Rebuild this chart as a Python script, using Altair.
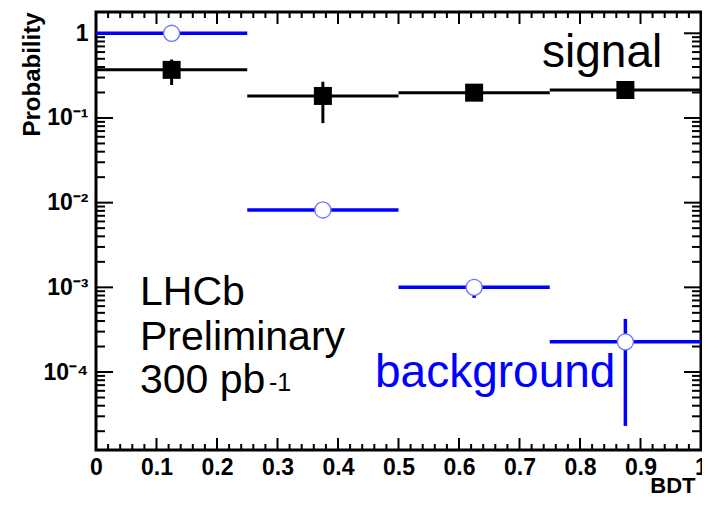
import altair as alt
import pandas as pd

# ---- data ----
bin_lo = [0.0, 0.25, 0.5, 0.75]
bin_hi = [0.25, 0.5, 0.75, 1.0]
bin_center = [0.125, 0.375, 0.625, 0.875]

signal = [0.37, 0.182, 0.199, 0.214]
signal_err_lo = [0.245, 0.087, 0.18, 0.195]
signal_err_hi = [0.49, 0.268, 0.22, 0.235]

background = [1.0, 0.0082, 0.001, 0.000227]
background_err_lo = [0.98, 0.0075, 0.00075, 0.0000231]
background_err_hi = [1.02, 0.009, 0.00125, 0.000424]

x_major = [0.0, 0.1, 0.2, 0.3, 0.4, 0.5, 0.6, 0.7, 0.8, 0.9, 1.0]
x_minor = [round(i * 0.02, 2) for i in range(51) if i % 5 != 0]
y_major = [1.0, 0.1, 0.01, 0.001, 0.0001]
y_labels = ["1", "10⁻¹", "10⁻²", "10⁻³", "10⁻⁴"]
y_minor = [k * 10.0 ** e for e in range(-5, 0) for k in range(2, 10)]
y_minor = [v for v in y_minor if 1.2e-5 <= v <= 1.784]

# ---- layout constants ----
W, H = 605, 438
FONT = "Liberation Sans"
BLUE = "#0000ff"

xs = alt.Scale(domain=[0, 1], nice=False, zero=False)
ys = alt.Scale(type="log", domain=[1.2e-5, 1.784], nice=False)

sig_df = pd.DataFrame({"lo": bin_lo, "hi": bin_hi, "c": bin_center,
                       "v": signal, "elo": signal_err_lo, "ehi": signal_err_hi})
bkg_df = pd.DataFrame({"lo": bin_lo, "hi": bin_hi, "c": bin_center,
                       "v": background, "elo": background_err_lo, "ehi": background_err_hi})
xmaj_df = pd.DataFrame({"v": x_major})
xmin_df = pd.DataFrame({"v": x_minor})
ymaj_df = pd.DataFrame({"v": y_major})
ymin_df = pd.DataFrame({"v": y_minor})

# label lookup built from the lists above
y_label_expr = " : ".join(
    f"abs(log(datum.value) / LN10 - ({i}) ) < 0.01 ? '{lab}'"
    for i, lab in zip([0, -1, -2, -3, -4], y_labels)
) + " : ''"

x_axis = alt.Axis(values=x_major, labelExpr="datum.value + ''", grid=False, domain=False,
                  ticks=False, labelFont=FONT, labelFontWeight="bold", labelFontSize=23,
                  labelColor="black", labelPadding=6, labelFlush=False,
                  title="BDT", titleFont=FONT, titleFontWeight="bold", titleFontSize=22,
                  titleColor="black", titleX=W - 6, titleY=42, titleAlign="right",
                  titleBaseline="alphabetic")
y_axis = alt.Axis(values=y_major, labelExpr=y_label_expr, grid=False, domain=False,
                  ticks=False, labelFont=FONT, labelFontWeight="bold", labelFontSize=23,
                  labelColor="black", labelPadding=8, labelAlign="right",
                  labelBaseline="middle", labelFlush=False, labelOverlap=False,
                  title="Probability", titleFont=FONT, titleFontWeight="bold",
                  titleFontSize=24, titleColor="black", titleX=-64, titleY=62,
                  titleAngle=-90, titleAlign="center", titleBaseline="middle")


def X(field):
    return alt.X(field, scale=xs, axis=x_axis)


def Y(field):
    return alt.Y(field, scale=ys, axis=y_axis)


layers = []

# x ticks (bottom & top, inward)
layers.append(alt.Chart(xmaj_df).mark_rule(color="black", strokeWidth=2).encode(
    x=X("v:Q"), y=alt.value(H), y2=alt.value(H - 12)))
layers.append(alt.Chart(xmaj_df).mark_rule(color="black", strokeWidth=2).encode(
    x=X("v:Q"), y=alt.value(0), y2=alt.value(12)))
layers.append(alt.Chart(xmin_df).mark_rule(color="black", strokeWidth=2).encode(
    x=X("v:Q"), y=alt.value(H), y2=alt.value(H - 6)))
layers.append(alt.Chart(xmin_df).mark_rule(color="black", strokeWidth=2).encode(
    x=X("v:Q"), y=alt.value(0), y2=alt.value(6)))

# y ticks (left & right, inward)
layers.append(alt.Chart(ymaj_df).mark_rule(color="black", strokeWidth=2).encode(
    y=Y("v:Q"), x=alt.value(0), x2=alt.value(17)))
layers.append(alt.Chart(ymaj_df).mark_rule(color="black", strokeWidth=2).encode(
    y=Y("v:Q"), x=alt.value(W), x2=alt.value(W - 17)))
layers.append(alt.Chart(ymin_df).mark_rule(color="black", strokeWidth=2).encode(
    y=Y("v:Q"), x=alt.value(0), x2=alt.value(9)))
layers.append(alt.Chart(ymin_df).mark_rule(color="black", strokeWidth=2).encode(
    y=Y("v:Q"), x=alt.value(W), x2=alt.value(W - 9)))

# signal
layers.append(alt.Chart(sig_df).mark_rule(color="black", strokeWidth=3).encode(
    x=X("lo:Q"), x2="hi:Q", y=Y("v:Q")))
layers.append(alt.Chart(sig_df).mark_rule(color="black", strokeWidth=3).encode(
    x=X("c:Q"), y=Y("elo:Q"), y2="ehi:Q"))
layers.append(alt.Chart(sig_df).mark_point(shape="square", filled=True, size=324,
                                            color="black", opacity=1).encode(
    x=X("c:Q"), y=Y("v:Q")))

# background
layers.append(alt.Chart(bkg_df).mark_rule(color=BLUE, strokeWidth=3.5).encode(
    x=X("lo:Q"), x2="hi:Q", y=Y("v:Q")))
layers.append(alt.Chart(bkg_df).mark_rule(color=BLUE, strokeWidth=3.5).encode(
    x=X("c:Q"), y=Y("elo:Q"), y2="ehi:Q"))
layers.append(alt.Chart(bkg_df).mark_point(shape="circle", filled=True, size=260,
                                            fill="white", stroke="#7070ff", strokeWidth=1.3,
                                            opacity=1, fillOpacity=1).encode(
    x=X("c:Q"), y=Y("v:Q")))


# annotations
def note(txt, x, y, size, color="black"):
    return alt.Chart(pd.DataFrame({"t": [txt]})).mark_text(
        align="left", baseline="alphabetic", font=FONT, fontSize=size, color=color).encode(
        x=alt.value(x), y=alt.value(y), text="t:N")


layers.append(note("signal", 446, 55, 46))
layers.append(note("background", 279, 375, 46, BLUE))
layers.append(note("LHCb", 44, 293, 41))
layers.append(note("Preliminary", 44, 338, 41))
layers.append(note("300 pb", 44, 381, 41))
layers.append(note("-1", 173, 379, 25))

chart = alt.layer(*layers).properties(
    width=W, height=H,
    background="white",
    autosize=alt.AutoSizeParams(type="none"),
    padding={"left": 88, "top": 4, "right": 1, "bottom": 44},
).configure_view(stroke="black", strokeWidth=3)

chart.save("out.html", embed_options={"renderer": "svg", "actions": False})
